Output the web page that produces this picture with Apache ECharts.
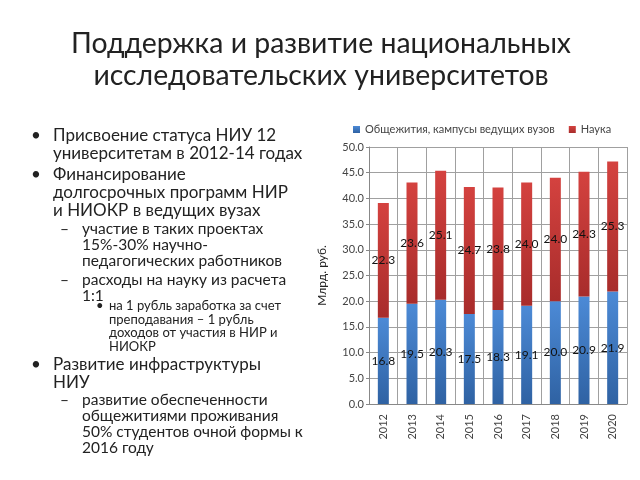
<!DOCTYPE html>
<html>
<head>
<meta charset="utf-8">
<script src="https://cdn.jsdelivr.net/npm/echarts@6/dist/echarts.min.js"></script>
<style>
  html, body { margin: 0; padding: 0; background: #fff; }
  #chart { width: 640px; height: 480px; }
</style>
</head>
<body>
<div id="chart"></div>
<script>
// данные
var years = ['2012', '2013', '2014', '2015', '2016', '2017', '2018', '2019', '2020'];
var dorms = [16.8, 19.5, 20.3, 17.5, 18.3, 19.1, 20.0, 20.9, 21.9];
var science = [22.3, 23.6, 25.1, 24.7, 23.8, 24.0, 24.0, 24.3, 25.3];
var seriesNames = ['Общежития, кампусы ведущих вузов', 'Наука'];
var titleLines = ['Поддержка и развитие национальных', 'исследовательских университетов'];

var FONT = 'Lato, "Liberation Sans", sans-serif';

// текст слева: [уровень, строки, y первой строки]
var bullets = [
    [1, ['Присвоение статуса НИУ 12', 'университетам в 2012-14 годах'], 137],
    [1, ['Финансирование', 'долгосрочных программ НИР', 'и НИОКР в ведущих вузах'], 176],
    [2, ['участие в таких проектах', '15%-30% научно-', 'педагогических работников'], 230],
    [2, ['расходы на науку из расчета', '1:1'], 281],
    [3, ['на 1 рубль заработка за счет', 'преподавания – 1 рубль', 'доходов от участия в НИР и', 'НИОКР'], 307],
    [1, ['Развитие инфраструктуры', 'НИУ'], 366],
    [2, ['развитие обеспеченности', 'общежитиями проживания', '50% студентов очной формы к', '2016 году'], 401]
];

var levelStyle = {
    1: { mark: '•', mx: 31, tx: 53, size: 17, lh: 18 },
    2: { mark: '–', mx: 60, tx: 82, size: 15.5, lh: 16 },
    3: { mark: '•', mx: 96, tx: 109, size: 13, lh: 13.5 }
};

var graphics = [{
    type: 'text', x: 321, y: 28,
    style: { text: titleLines.join('\n'), font: '28.4px ' + FONT, fill: '#222', align: 'center', lineHeight: 32 }
}];
bullets.forEach(function (b) {
    var st = levelStyle[b[0]];
    graphics.push({
        type: 'text', left: st.mx, top: b[2] - st.size * 0.6,
        style: { text: st.mark, font: st.size + 'px ' + FONT, fill: '#222' }
    });
    graphics.push({
        type: 'text', left: st.tx, top: b[2] - st.size * 0.6,
        style: { text: b[1].join('\n'), font: st.size + 'px ' + FONT, fill: '#222', lineHeight: st.lh }
    });
});

function grad(top, bottom) {
    return new echarts.graphic.LinearGradient(0, 0, 0, 1, [
        { offset: 0, color: top }, { offset: 1, color: bottom }
    ]);
}

var chart = echarts.init(document.getElementById('chart'));
chart.setOption({
    animation: false,
    legend: {
        data: seriesNames, left: 348, top: 119,
        itemWidth: 7, itemHeight: 7, itemGap: 14,
        icon: 'rect',
        textStyle: { fontFamily: FONT, fontSize: 11, color: '#444' }
    },
    grid: { left: 369, right: 13, top: 147, bottom: 76 },
    xAxis: {
        type: 'category', data: years,
        axisLine: { lineStyle: { color: '#888' } },
        axisTick: { length: 5, lineStyle: { color: '#888' } },
        axisLabel: { rotate: 90, fontFamily: FONT, fontSize: 11, color: '#444', margin: 10 },
        splitLine: { show: true, lineStyle: { color: '#a0a0a0' } }
    },
    yAxis: {
        type: 'value', min: 0, max: 50, interval: 5,
        name: 'Млрд. руб.', nameLocation: 'middle', nameGap: 41,
        nameTextStyle: { fontFamily: FONT, fontSize: 12, color: '#222' },
        axisLine: { show: true, lineStyle: { color: '#888' } },
        axisTick: { show: true, length: 3, lineStyle: { color: '#888' } },
        axisLabel: { formatter: function (v) { return v.toFixed(1); }, fontFamily: FONT, fontSize: 11, color: '#444', margin: 5 },
        splitLine: { lineStyle: { color: '#a0a0a0' } }
    },
    series: [
        {
            name: seriesNames[0], type: 'bar', stack: 'total', data: dorms, barWidth: 11,
            itemStyle: { color: grad('#4c8ad6', '#2f62a3') },
            label: { show: true, position: 'inside', formatter: function (p) { return p.value.toFixed(1); },
                fontFamily: FONT, fontSize: 12, color: '#111' }
        },
        {
            name: seriesNames[1], type: 'bar', stack: 'total', data: science, barWidth: 11,
            itemStyle: { color: grad('#d4423f', '#a82c2b') },
            label: { show: true, position: 'inside', formatter: function (p) { return p.value.toFixed(1); },
                fontFamily: FONT, fontSize: 12, color: '#111' }
        }
    ],
    graphic: graphics
});
</script>
</body>
</html>
